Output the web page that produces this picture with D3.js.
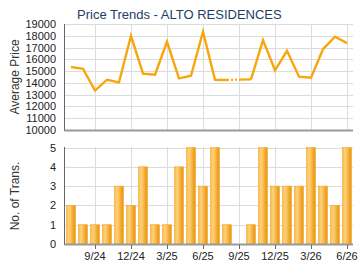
<!DOCTYPE html>
<html><head><meta charset="utf-8">
<script src="https://cdn.jsdelivr.net/npm/d3@7"></script>
<style>body{margin:0;background:#fff;}svg{display:block;font-family:"Liberation Sans",Arial,sans-serif;}</style>
</head><body><svg id="c" width="360" height="270"></svg>
<script>
const months = ["7/24","8/24","9/24","10/24","11/24","12/24","1/25","2/25","3/25","4/25","5/25","6/25","7/25","8/25","9/25","10/25","11/25","12/25","1/26","2/26","3/26","4/26","5/26","6/26"];
const tickMonths = ["9/24","12/24","3/25","6/25","9/25","12/25","3/26","6/26"];
const avgPrice = [15350,15200,13350,14270,14040,18000,14780,14700,17490,14380,14610,18340,14270,14250,null,14300,17630,15070,16720,14530,14440,16860,17920,17380];
const transactions = [2,1,1,1,3,2,4,1,1,4,5,3,5,1,0,1,5,3,3,3,5,3,2,5];
const priceTicks = [10000,11000,12000,13000,14000,15000,16000,17000,18000,19000];
const transTicks = [0,1,2,3,4,5];

const svg = d3.select("#c");
const L = 64.5, R = 353;
const x = d3.scaleBand().domain(months).range([65, 353]).paddingInner(0.25).paddingOuter(0.125);
const cx = m => x(m) + x.bandwidth()/2;
const yP = d3.scaleLinear().domain([10000,19000]).range([130, 24]);
const yT = d3.scaleLinear().domain([0,5]).range([244, 147.5]);

const defs = svg.append("defs");
const g = defs.append("linearGradient").attr("id","bg").attr("x1","0").attr("x2","1").attr("y1","0").attr("y2","0");
[[0,"#f3b13c"],[0.2,"#fdd07a"],[0.45,"#fcc560"],[0.75,"#f2a728"],[1,"#e69412"]].forEach(s=>g.append("stop").attr("offset",s[0]).attr("stop-color",s[1]));

svg.append("text").attr("x",77).attr("y",19).attr("font-size",13).attr("fill","#1d3d66").text("Price Trends - ALTO RESIDENCES");

// ---- Top chart ----
const gTop = svg.append("g");
gTop.selectAll(".hg").data(priceTicks).join("line")
  .attr("x1",L).attr("x2",R).attr("y1",d=>Math.round(yP(d))+0.5).attr("y2",d=>Math.round(yP(d))+0.5)
  .attr("stroke","#dcdcdc").attr("stroke-width",1);
gTop.selectAll(".vg").data(tickMonths).join("line")
  .attr("x1",d=>Math.round(cx(d))+0.5).attr("x2",d=>Math.round(cx(d))+0.5).attr("y1",24).attr("y2",130)
  .attr("stroke","#dcdcdc");
gTop.append("line").attr("x1",L).attr("x2",L).attr("y1",24).attr("y2",131).attr("stroke","#666");
gTop.append("line").attr("x1",L).attr("x2",R).attr("y1",130.5).attr("y2",130.5).attr("stroke","#999").attr("stroke-width",2);
gTop.selectAll(".yl").data(priceTicks).join("text")
  .attr("x",56).attr("y",d=>yP(d)+4).attr("text-anchor","end").attr("font-size",11).attr("fill","#222").text(d=>d);
svg.append("text").attr("transform","translate(19,77) rotate(-90)").attr("text-anchor","middle")
  .attr("font-size",12).attr("fill","#333").text("Average Price");

const pts = months.map((m,i)=>({m,v:avgPrice[i]}));
const line = d3.line().defined(d=>d.v!==null).x(d=>cx(d.m)).y(d=>yP(d.v));
for (let i=1;i<pts.length-1;i++){
  if (pts[i].v===null){
    let a=i-1,b=i+1; while(b<pts.length && pts[b].v===null) b++;
    if (pts[a].v!==null && b<pts.length){
      gTop.append("path").attr("d",d3.line().x(d=>cx(d.m)).y(d=>yP(d.v))([pts[a],pts[b]]))
        .attr("fill","none").attr("stroke","#f7a60e").attr("stroke-width",2.2)
        .attr("stroke-dasharray","2,2,2,2,2,2,30");
    }
  }
}
gTop.append("path").attr("d",line(pts)).attr("fill","none").attr("stroke","#f7a60e")
  .attr("stroke-width",2.4).attr("stroke-linejoin","miter");

// ---- Bottom chart ----
const gBot = svg.append("g");
gBot.selectAll(".hg").data(transTicks).join("line")
  .attr("x1",L).attr("x2",R).attr("y1",d=>Math.round(yT(d))+0.5).attr("y2",d=>Math.round(yT(d))+0.5)
  .attr("stroke","#dcdcdc");
gBot.selectAll(".vg").data(tickMonths).join("line")
  .attr("x1",d=>Math.round(cx(d))+0.5).attr("x2",d=>Math.round(cx(d))+0.5).attr("y1",147).attr("y2",244)
  .attr("stroke","#dcdcdc");
gBot.selectAll(".bar").data(months.map((m,i)=>({m,v:transactions[i]})).filter(d=>d.v>0)).join("rect")
  .attr("x",d=>x(d.m)).attr("width",x.bandwidth()).attr("y",d=>yT(d.v)).attr("height",d=>yT(0)-yT(d.v))
  .attr("fill","url(#bg)").attr("stroke","#f0aa30").attr("stroke-width",0.6);
gBot.append("line").attr("x1",L).attr("x2",L).attr("y1",147).attr("y2",245).attr("stroke","#666");
gBot.append("line").attr("x1",L).attr("x2",R).attr("y1",244.5).attr("y2",244.5).attr("stroke","#999").attr("stroke-width",2);
gBot.selectAll(".tk").data(tickMonths).join("line")
  .attr("x1",d=>Math.round(cx(d))+0.5).attr("x2",d=>Math.round(cx(d))+0.5).attr("y1",245).attr("y2",249)
  .attr("stroke","#666");
gBot.selectAll(".xl").data(tickMonths).join("text")
  .attr("x",d=>cx(d)).attr("y",260).attr("text-anchor","middle").attr("font-size",11).attr("fill","#222").text(d=>d);
gBot.selectAll(".yl").data(transTicks).join("text")
  .attr("x",56).attr("y",d=>yT(d)+4).attr("text-anchor","end").attr("font-size",11).attr("fill","#222").text(d=>d);
svg.append("text").attr("transform","translate(19,196) rotate(-90)").attr("text-anchor","middle")
  .attr("font-size",12).attr("fill","#333").text("No. of Trans.");
</script></body></html>
